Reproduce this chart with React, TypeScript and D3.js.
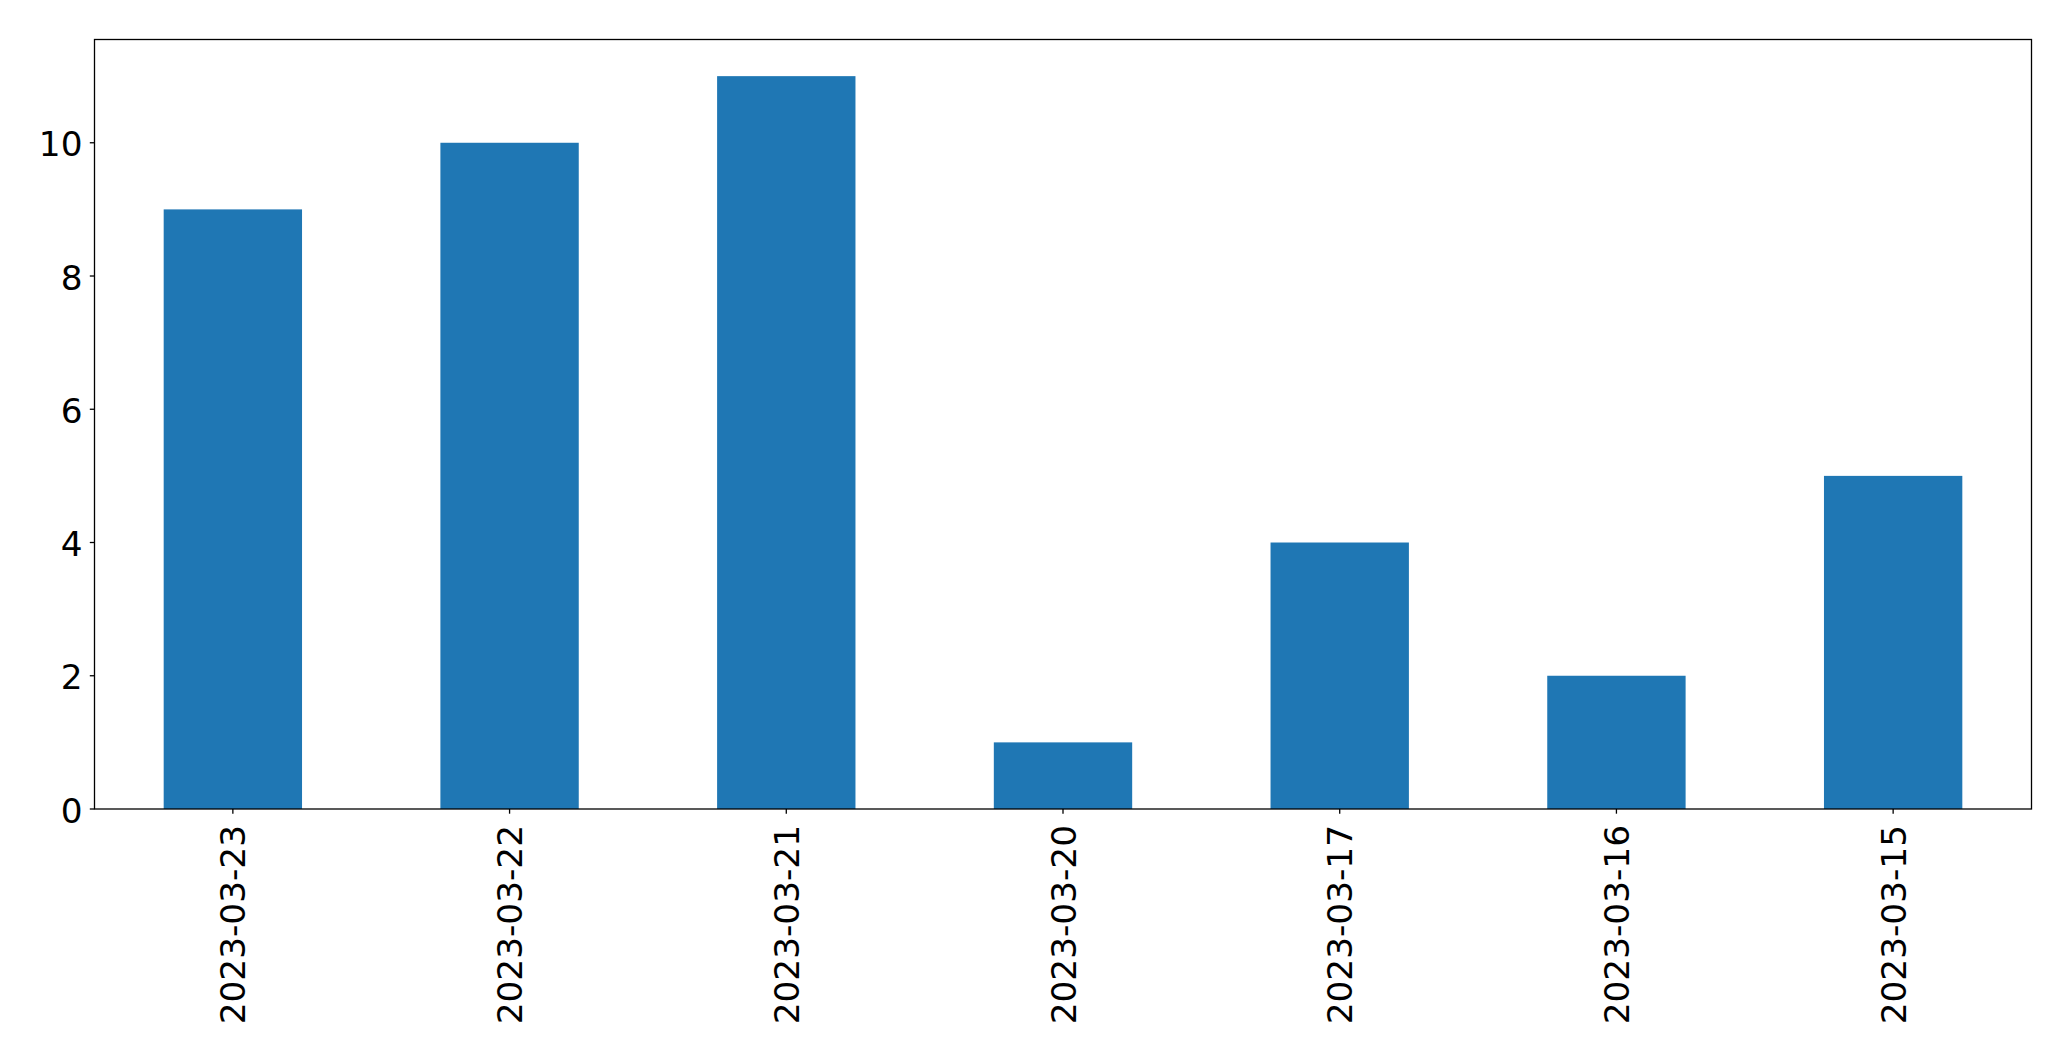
import React from "react";
import * as d3 from "d3";

const categories = ["2023-03-23", "2023-03-22", "2023-03-21", "2023-03-20", "2023-03-17", "2023-03-16", "2023-03-15"];
const values = [9, 10, 11, 1, 4, 2, 5];
const yTicks = [0, 2, 4, 6, 8, 10];

const W = 2071;
const H = 1061;
const M = { left: 94.5, right: 2031.5, top: 39.5, bottom: 809 };
const FS = 34.3;
const FONT = "'DejaVu Sans', sans-serif";

export default function App() {
  const x = d3
    .scaleLinear()
    .domain([-0.5, categories.length - 0.5])
    .range([M.left, M.right]);
  const yMax = d3.max(values)! * 1.05;
  const y = d3.scaleLinear().domain([0, yMax]).range([M.bottom, M.top]);
  const barW = x(0.5) - x(0);

  return (
    <svg
      width={W}
      height={H}
      style={{ position: "absolute", left: 0, top: 0, background: "#fff" }}
      fontFamily={FONT}
    >
      <rect x={0} y={0} width={W} height={H} fill="#fff" />
      {values.map((v, i) => (
        <rect
          key={i}
          x={x(i) - barW / 2}
          y={y(v)}
          width={barW}
          height={y(0) - y(v)}
          fill="#1f77b4"
        />
      ))}
      <rect
        x={M.left}
        y={M.top}
        width={M.right - M.left}
        height={M.bottom - M.top}
        fill="none"
        stroke="#000"
        strokeWidth={1.3}
      />
      {yTicks.map((t) => (
        <g key={t}>
          <line x1={M.left - 4.7} x2={M.left} y1={y(t)} y2={y(t)} stroke="#000" strokeWidth={1.3} />
          <text x={M.left - 12} y={y(t) + 13.5} textAnchor="end" fontSize={FS} fill="#000">
            {t}
          </text>
        </g>
      ))}
      {categories.map((c, i) => (
        <g key={c}>
          <line x1={x(i)} x2={x(i)} y1={M.bottom} y2={M.bottom + 4.7} stroke="#000" strokeWidth={1.3} />
          <text
            transform={`translate(${x(i) + 0.365 * FS},${M.bottom + 16}) rotate(-90)`}
            textAnchor="end"
            fontSize={FS}
            fill="#000"
          >
            {c}
          </text>
        </g>
      ))}
    </svg>
  );
}
